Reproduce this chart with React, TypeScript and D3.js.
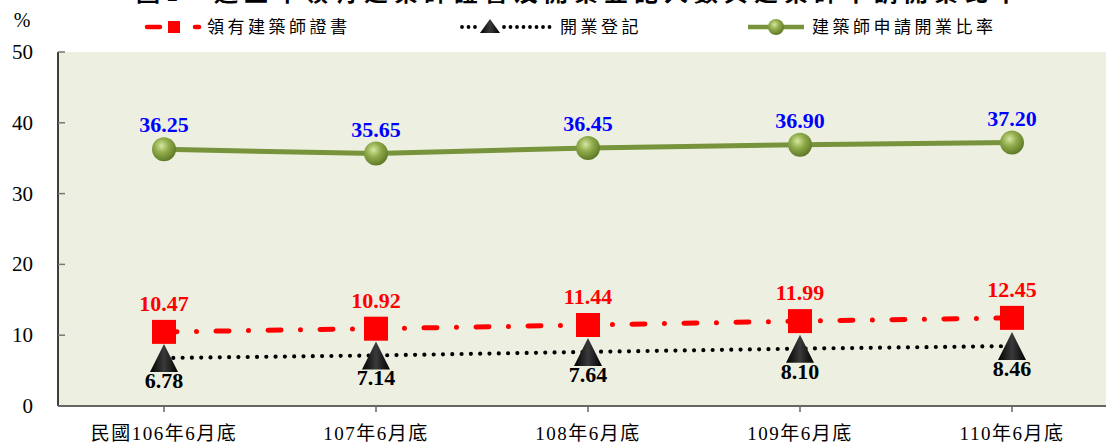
import React from 'react'
import * as d3 from 'd3'

const categories = ['民國106年6月底', '107年6月底', '108年6月底', '109年6月底', '110年6月底']
const licensed = [10.47, 10.92, 11.44, 11.99, 12.45]
const registered = [6.78, 7.14, 7.64, 8.10, 8.46]
const ratio = [36.25, 35.65, 36.45, 36.90, 37.20]
const yTicks = [0, 10, 20, 30, 40, 50]

const W = 1106
const H = 443
const serif = '"Liberation Serif", "Times New Roman", "Noto Sans CJK TC", serif'
const cjk = '"Liberation Serif", "Noto Sans CJK TC", serif'

const App = () => {
  const x = d3.scaleBand().domain(categories).range([58, 1118])
  const y = d3.scaleLinear().domain([0, 50]).range([406, 52])
  const cx = (c: string) => (x(c) as number) + x.bandwidth() / 2
  const line = d3.line<number>().x((d, i) => cx(categories[i])).y(d => y(d))

  return (
    <svg width={W} height={H} style={{ position: 'absolute', left: 0, top: 0 }}>
      <defs>
        <radialGradient id="ball" cx="40%" cy="35%" r="65%">
          <stop offset="0%" stopColor="#d6e6a0" />
          <stop offset="45%" stopColor="#92ad4c" />
          <stop offset="100%" stopColor="#5f7a26" />
        </radialGradient>
        <linearGradient id="tri" x1="0" y1="0" x2="1" y2="0">
          <stop offset="0%" stopColor="#000" />
          <stop offset="50%" stopColor="#3a3a3a" />
          <stop offset="100%" stopColor="#000" />
        </linearGradient>
      </defs>

      {/* title, cut off at the top as in the source */}
      <text x={580} y={1} textAnchor="middle" fontFamily={cjk} fontSize={24} fontWeight="bold" fill="#000" letterSpacing={6}>
        圖1　近五年領有建築師證書及開業登記人數與建築師申請開業比率
      </text>

      <rect x={58} y={52} width={W - 58} height={406 - 52} fill="#edf0e1" />

      {/* y axis */}
      <line x1={58} x2={58} y1={52} y2={406} stroke="#000" strokeWidth={1.5} />
      {yTicks.map(t => (
        <g key={t}>
          <line x1={58} x2={65} y1={y(t)} y2={y(t)} stroke="#777" strokeWidth={1.5} />
          <text x={33} y={y(t) + 7} textAnchor="end" fontFamily={serif} fontSize={21} fill="#000">{t}</text>
        </g>
      ))}
      <text x={22} y={27} textAnchor="middle" fontFamily={serif} fontSize={20} fill="#000">%</text>

      {/* x axis */}
      <line x1={58} x2={W} y1={406} y2={406} stroke="#666" strokeWidth={2} />
      {categories.map(c => (
        <g key={c}>
          <line x1={cx(c)} x2={cx(c)} y1={406} y2={412} stroke="#666" strokeWidth={1.5} />
          <text x={cx(c)} y={440} textAnchor="middle" fontFamily={cjk} fontSize={19} letterSpacing={1.5} fill="#000">{c}</text>
        </g>
      ))}

      {/* ratio */}
      <path d={line(ratio) as string} fill="none" stroke="#77933c" strokeWidth={5} />
      {ratio.map((v, i) => (
        <g key={i}>
          <circle cx={cx(categories[i])} cy={y(v)} r={12} fill="url(#ball)" />
          <text x={cx(categories[i])} y={y(v) - 17} textAnchor="middle" fontFamily={serif} fontSize={22} fontWeight="bold" fill="#0000ff">{v.toFixed(2)}</text>
        </g>
      ))}

      {/* licensed */}
      <path d={line(licensed) as string} fill="none" stroke="#ff0000" strokeWidth={5} strokeLinecap="round" strokeDasharray="13 19.5 0 19.5" />
      {licensed.map((v, i) => (
        <g key={i}>
          <rect x={cx(categories[i]) - 12} y={y(v) - 12} width={24} height={24} fill="#ff0000" />
          <text x={cx(categories[i])} y={y(v) - 21} textAnchor="middle" fontFamily={serif} fontSize={22} fontWeight="bold" fill="#ff0000">{v.toFixed(2)}</text>
        </g>
      ))}

      {/* registered */}
      <path d={line(registered) as string} fill="none" stroke="#000" strokeWidth={4.2} strokeLinecap="round" strokeDasharray="0 9.3" />
      {registered.map((v, i) => {
        const px = cx(categories[i])
        const py = y(v)
        return (
          <g key={i}>
            <path d={`M${px},${py - 14}L${px + 14},${py + 14}L${px - 14},${py + 14}Z`} fill="url(#tri)" />
            <text x={px} y={py + 30} textAnchor="middle" fontFamily={serif} fontSize={22} fontWeight="bold" fill="#000">{v.toFixed(2)}</text>
          </g>
        )
      })}

      {/* legend */}
      <g>
        <line x1={147} x2={160} y1={27} y2={27} stroke="#ff0000" strokeWidth={4.5} strokeLinecap="round" />
        <rect x={168} y={21} width={12} height={12} fill="#ff0000" />
        <line x1={195} x2={199} y1={27} y2={27} stroke="#ff0000" strokeWidth={4.5} strokeLinecap="round" />
        <text x={207} y={33} fontFamily={cjk} fontSize={17} letterSpacing={3.5} fill="#000">領有建築師證書</text>

        <line x1={462} x2={478} y1={27} y2={27} stroke="#000" strokeWidth={3.8} strokeLinecap="round" strokeDasharray="0 6.5" />
        <path d="M490,19L500,33L480,33Z" fill="url(#tri)" />
        <line x1={504} x2={552} y1={27} y2={27} stroke="#000" strokeWidth={3.8} strokeLinecap="round" strokeDasharray="0 6.5" />
        <text x={560} y={33} fontFamily={cjk} fontSize={17} letterSpacing={3.5} fill="#000">開業登記</text>

        <line x1={748} x2={804} y1={27} y2={27} stroke="#77933c" strokeWidth={4.5} />
        <circle cx={776} cy={27} r={8} fill="url(#ball)" />
        <text x={812} y={33} fontFamily={cjk} fontSize={17} letterSpacing={3.5} fill="#000">建築師申請開業比率</text>
      </g>
    </svg>
  )
}

export default App
